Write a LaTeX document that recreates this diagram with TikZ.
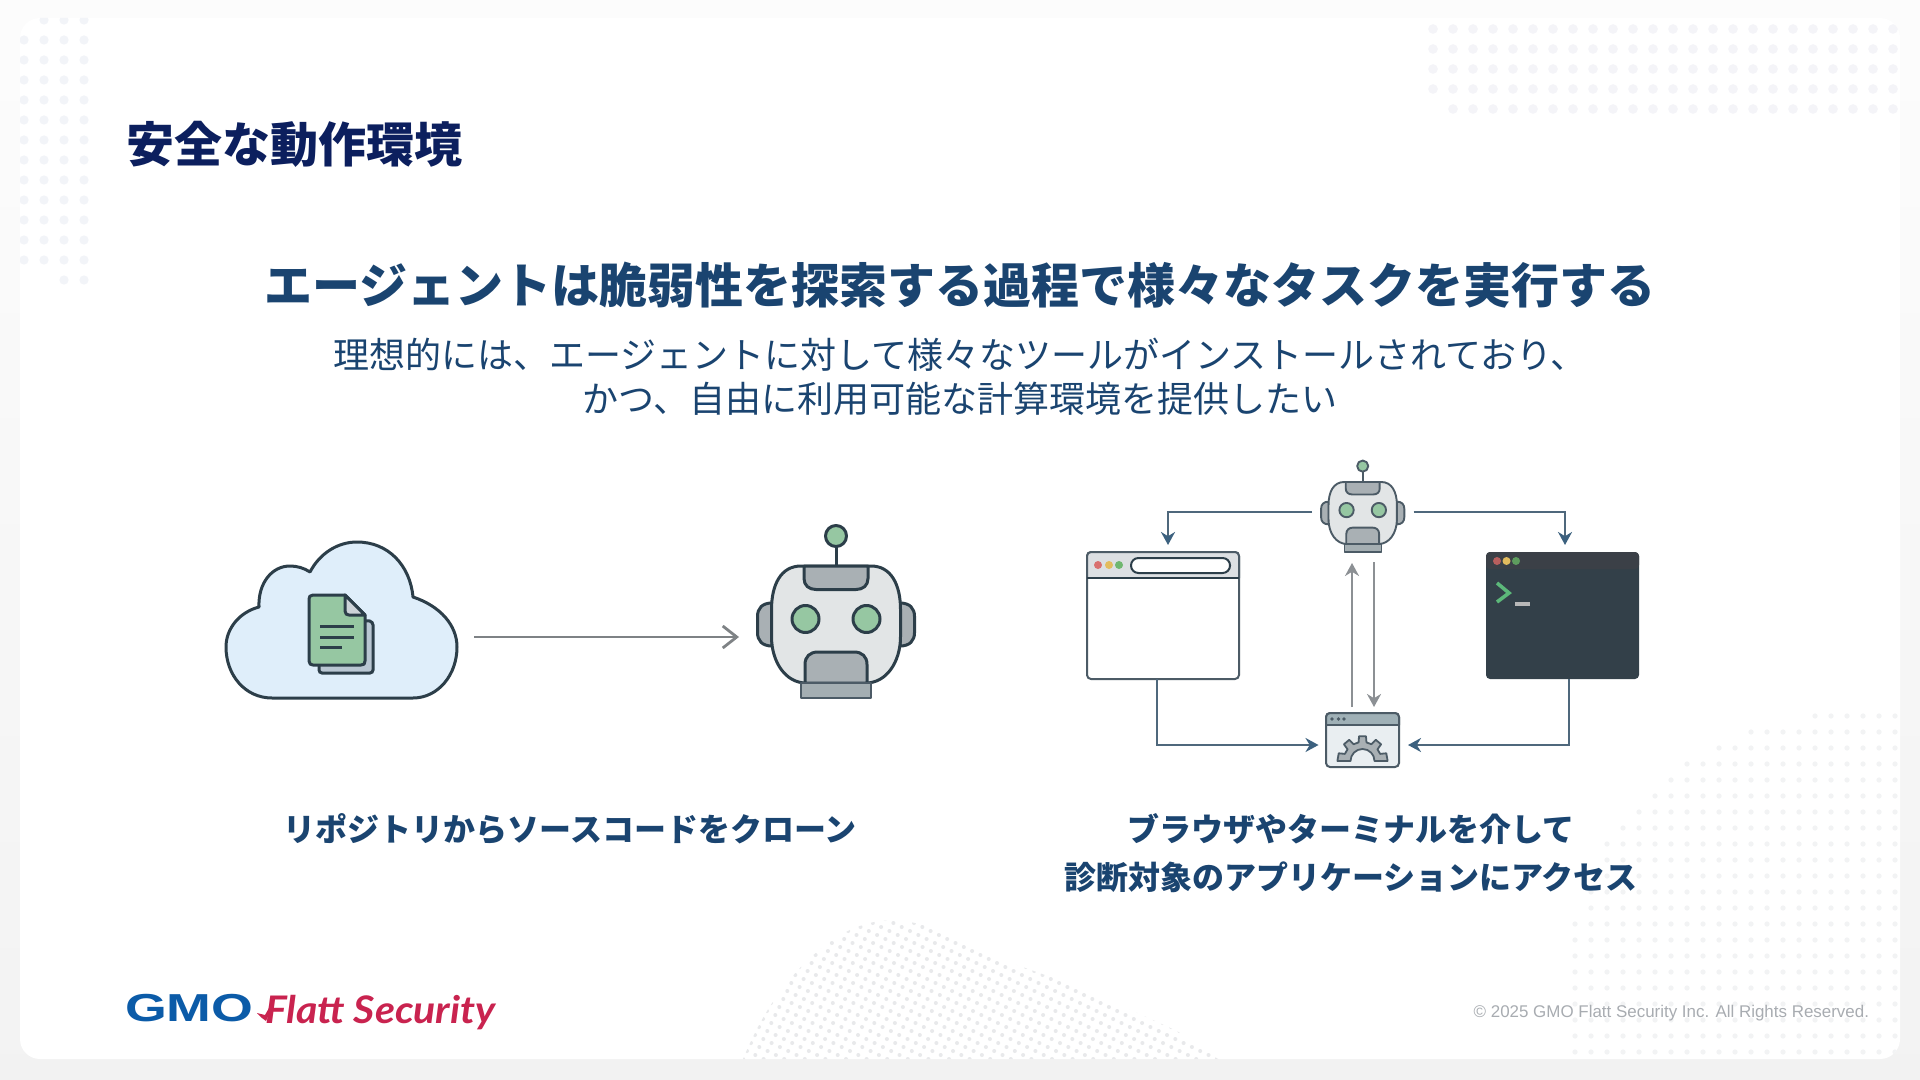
\documentclass[tikz,border=0pt]{standalone}
\usepackage{fontspec}
\usetikzlibrary{arrows.meta,calc}
\setmainfont{Noto Sans CJK JP}
\newfontfamily\latinfont{Liberation Sans}
\newfontfamily\logofont{Lato}
\definecolor{navy}{HTML}{0C1F5E}
\definecolor{heading}{HTML}{1A4470}
\definecolor{ink}{HTML}{2C3E49}
\definecolor{inksoft}{HTML}{4C5B66}
\definecolor{flow}{HTML}{4F687C}
\definecolor{flowhead}{HTML}{3C617F}
\definecolor{grayflow}{HTML}{8C9094}
\definecolor{botface}{HTML}{E2E5E6}
\definecolor{botgray}{HTML}{A9B0B4}
\definecolor{botbase}{HTML}{A4AEB2}
\definecolor{botgreen}{HTML}{96C7A2}
\definecolor{cloudfill}{HTML}{DFEEFA}
\definecolor{backpage}{HTML}{B9C6D2}
\definecolor{foldgray}{HTML}{CDD3D8}
\definecolor{termfill}{HTML}{334049}
\definecolor{termbar}{HTML}{3B4047}
\definecolor{barlight}{HTML}{DCDFE2}
\definecolor{toolbar}{HTML}{9FB0B6}
\definecolor{toolfill}{HTML}{E9EEF1}
\definecolor{dotA}{HTML}{F2F4F8}
\definecolor{dotB}{HTML}{F4F4F8}
\definecolor{dotC}{HTML}{F2F3F4}
\definecolor{dotD}{HTML}{E8E9EB}
\definecolor{wred}{HTML}{D9706F}
\definecolor{wyel}{HTML}{E3BC5E}
\definecolor{wgrn}{HTML}{6FB76F}
\definecolor{promptg}{HTML}{5CB87A}
\definecolor{copy}{HTML}{A8ACB1}
\definecolor{gmoblue}{HTML}{0B5BA8}
\definecolor{flattred}{HTML}{C9234F}
\tikzset{
  txt/.style={inner sep=0pt,outer sep=0pt,align=center},
  flowline/.style={draw=flow,line width=1.2pt,-{Stealth[length=6.5pt,width=7pt,color=flowhead]}},
  grayline/.style={draw=grayflow,line width=1.1pt,-{Stealth[length=6.5pt,width=7pt,color=grayflow]}},
  winbox/.style={rectangle,rounded corners=2pt,inner sep=0pt,outer sep=0pt},
  wdot/.style={circle,inner sep=0pt,minimum size=4pt},
}
% #1 centre, #2 scale, #3 stroke width, #4 stroke colour
\newcommand{\robotfig}[4]{%
\begin{scope}[shift={#1},scale=#2,draw=#4,line width=#3,line join=round]
  \draw[fill=botgray] (-64,-21.5) .. controls (-74,-21.5) and (-78.5,-16) .. (-78.5,-8) -- (-78.5,8) .. controls (-78.5,16) and (-74,21.5) .. (-64,21.5) -- cycle;
  \draw[fill=botgray] (64,-21.5) .. controls (74,-21.5) and (78.5,-16) .. (78.5,-8) -- (78.5,8) .. controls (78.5,16) and (74,21.5) .. (64,21.5) -- cycle;
  \draw (0,-58.5) -- (0,-78);
  \draw[fill=botgreen] (0,-88.5) circle [radius=10.5];
  \draw[fill=botface] (-35,-58.5) .. controls (-55,-58.5) and (-64.5,-40) .. (-64.5,-15) -- (-64.5,12) .. controls (-64.5,38) and (-50,58.5) .. (-30,58.5) -- (30,58.5) .. controls (50,58.5) and (64.5,38) .. (64.5,12) -- (64.5,-15) .. controls (64.5,-40) and (55,-58.5) .. (35,-58.5) -- cycle;
  \draw[fill=botgray] (-32,-58.5) -- (-32,-46) .. controls (-32,-39) and (-27,-35) .. (-20,-35) -- (20,-35) .. controls (27,-35) and (32,-39) .. (32,-46) -- (32,-58.5) -- cycle;
  \draw[fill=botgreen] (-30.5,-5.5) circle [radius=13.5];
  \draw[fill=botgreen] (30.5,-5.5) circle [radius=13.5];
  \draw[fill=botgray] (-31,58.5) -- (-31,40) .. controls (-31,32) and (-26,27.5) .. (-18,27.5) -- (18,27.5) .. controls (26,27.5) and (31,32) .. (31,40) -- (31,58.5) -- cycle;
  \draw[fill=botbase,draw=inksoft,line width=0.6pt] (-35,58.5) rectangle (35,73.5);
\end{scope}}
\begin{document}
\begin{tikzpicture}[x=0.5pt,y=-0.5pt]
\useasboundingbox (0,0) rectangle (1920,1080);
% page and card
\shade[top color=white!98!gray,bottom color=black!5] (0,0) rectangle (1920,1080);
\fill[white,rounded corners=10pt] (20,18) rectangle (1900,1059);
% decorative dots
\begin{scope}
\clip[rounded corners=10pt] (20,18) rectangle (1900,1059);
\foreach \yy in {40,60,...,260}{\foreach \xx in {24,44,64,84}{\fill[dotA] (\xx,\yy) circle [radius=4.6];}}
\foreach \xx in {44,64,84}{\fill[dotA] (\xx,20) circle [radius=4.6];}
\foreach \xx in {64,84}{\fill[dotA] (\xx,280) circle [radius=4.6];}
\foreach \yy in {29,49,69,89}{\foreach \xx in {1433,1453,...,1893}{\fill[dotB] (\xx,\yy) circle [radius=4.8];}}
\foreach \xx in {1453,1473,...,1893}{\fill[dotB] (\xx,109) circle [radius=4.8];}
\foreach \yy/\kk in {716/15,732/11,748/9,764/7,780/6,796/5,812/4,828/3,844/2,860/2,876/2,892/1,908/1,924/0,940/0,956/0,972/0,988/0,1004/0,1020/0,1036/0,1052/0}{
  \foreach \cc in {\kk,...,20}{\fill[dotC] ({1575+16*\cc},\yy) circle [radius=2.6];}}
\begin{scope}
\clip (743,1059) .. controls (755,1030) and (770,1003) .. (787,983) .. controls (805,960) and (835,933) .. (863,925) .. controls (880,919) and (905,917) .. (937,930) -- (1003,960) -- (1087,990) -- (1177,1031) -- (1218,1059) -- cycle;
\fill[dotD] foreach \ii in {0,...,60}{foreach \jj in {-8,...,36}{ ({743+8.3*\ii+4*\jj},{1059+4*\ii-8*\jj}) circle [radius=2]}};
\end{scope}
\end{scope}
% title texts
\node[txt,anchor=west,text=navy,font=\fontsize{24}{28}\selectfont\bfseries] (title) at (126,144) {安全な動作環境};
\node[txt,text=heading,font=\fontsize{24}{28}\selectfont\bfseries] (head) at (960,285) {エージェントは脆弱性を探索する過程で様々なタスクを実行する};
\node[txt,text=heading,font=\fontsize{18}{22}\selectfont] (sub) at (960,377) {理想的には、エージェントに対して様々なツールがインストールされており、\\かつ、自由に利用可能な計算環境を提供したい};
\node[txt,text=heading,font=\fontsize{16}{24}\selectfont\bfseries] (labL) at (570,829) {リポジトリからソースコードをクローン};
\node[txt,text=heading,font=\fontsize{16}{24}\selectfont\bfseries] (labR) at (1351,853) {ブラウザやターミナルを介して\\診断対象のアプリケーションにアクセス};
% cloud
\draw[ink,fill=cloudfill,line width=1.5pt,line join=round] (272,698) .. controls (245,698) and (226,675) .. (226,647) .. controls (226,628) and (240,612) .. (259,607) .. controls (258,583) and (272,566) .. (290,566) .. controls (297,566) and (304,568) .. (310,572) .. controls (320,553) and (338,542) .. (357,542) .. controls (388,542) and (410,565) .. (413,597) .. controls (440,606) and (457,625) .. (457,647) .. controls (457,675) and (438,698) .. (413,698) -- cycle;
% documents
\draw[ink,fill=backpage,line width=1.5pt,rounded corners=1.5pt] (366,620) -- (373,622) -- (373,673) -- (319,673) -- (319,660) -- cycle;
\draw[ink,fill=botgreen,line width=1.5pt,line join=round] (345,595) -- (313,595) .. controls (310,595) and (309,597) .. (309,599) -- (309,661) .. controls (309,664) and (311,665) .. (313,665) -- (361,665) .. controls (364,665) and (365,664) .. (365,661) -- (365,615) -- cycle;
\draw[ink,fill=foldgray,line width=1.5pt,line join=round] (345,595) -- (345,611) .. controls (345,614) and (347,615) .. (349,615) -- (365,615) -- cycle;
\draw[ink,line width=1.5pt] (320,626) -- (354,626) (320,637) -- (354,637) (320,647) -- (342,647);
% first arrow and robot
\coordinate (cloudR) at (474,637);
\coordinate (botL) at (739,637);
\draw[draw=grayflow!90!black,line width=1.4pt,-{Straight Barb[length=7pt,width=11pt,color=grayflow!90!black]}] (cloudR) -- (botL);
\robotfig{(836,624.5)}{1}{1.5pt}{ink}
\robotfig{(1362.7,513)}{0.53}{0.95pt}{inksoft}
% browser
\node[winbox,draw=inksoft,fill=white,line width=1pt,minimum width=76pt,minimum height=63.5pt] (browser) at (1163,615.5) {};
\draw[fill=barlight,draw=none,rounded corners=2pt] (1087,578) -- (1087,552) -- (1239,552) -- (1239,578) -- cycle;
\draw[inksoft,line width=1pt,rounded corners=2pt] (1087,578) -- (1087,552) -- (1239,552) -- (1239,578);
\draw[ink,line width=1pt] (1087,578) -- (1239,578);
\node[wdot,fill=wred] (bd1) at (1098,565) {};
\node[wdot,fill=wyel] (bd2) at (1109,565) {};
\node[wdot,fill=wgrn] (bd3) at (1119,565) {};
\node[rectangle,rounded corners=3.7pt,draw=ink,fill=white,line width=1pt,minimum width=49.5pt,minimum height=7.5pt,inner sep=0pt] (urlbar) at (1180.5,565.5) {};
% terminal
\node[winbox,fill=termfill,minimum width=76.5pt,minimum height=63.5pt] (term) at (1562.5,615.5) {};
\fill[rounded corners=2pt,fill=termbar] (1486,569) -- (1486,552) -- (1639,552) -- (1639,569) -- cycle;
\node[wdot,fill=wred!85!black] (td1) at (1497,561) {};
\node[wdot,fill=wyel] (td2) at (1506.5,561) {};
\node[wdot,fill=wgrn!85!black] (td3) at (1516,561) {};
\draw[promptg,line width=1.8pt,miter limit=4] (1497,583) -- (1509,593) -- (1497,602);
\draw[black!28,line width=1.8pt] (1515,604) -- (1530,604);
% tool window
\node[winbox,draw=inksoft,fill=toolfill,line width=1pt,minimum width=36.5pt,minimum height=27pt] (tool) at (1362.5,740) {};
\fill[rounded corners=2pt,fill=toolbar] (1326,725) -- (1326,713) -- (1399,713) -- (1399,725) -- cycle;
\draw[inksoft,line width=1pt,rounded corners=2pt] (1326,725) -- (1326,713) -- (1399,713) -- (1399,725);
\draw[inksoft,line width=1pt] (1326,725) -- (1399,725);
\node[wdot,minimum size=1.8pt,fill=inksoft] (ts1) at (1332,719) {};
\node[wdot,minimum size=1.8pt,fill=inksoft] (ts2) at (1338.5,719) {};
\node[wdot,minimum size=1.8pt,fill=inksoft] (ts3) at (1344,719) {};
\begin{scope}[shift={(1362.5,761)},y=0.5pt]
\draw[inksoft,fill=botgray,line width=0.9pt,line join=round] (0:12) -- (0:25) -- (2:25) -- (18:25) -- (22:19) -- (38:19) -- (42:25) -- (58:25) -- (62:19) -- (78:19) -- (82:25) -- (98:25) -- (102:19) -- (118:19) -- (122:25) -- (138:25) -- (142:19) -- (158:19) -- (162:25) -- (178:25) -- (180:25) -- (180:12) arc (180:0:12) -- cycle;
\end{scope}
% connectors
\coordinate (botsL) at (1312,512);
\coordinate (botsR) at (1413.5,512);
\coordinate (brIn) at (1168,545);
\coordinate (teIn) at (1565,545);
\coordinate (toolL) at (1318.5,745);
\coordinate (toolR) at (1408,745);
\coordinate (brOut) at (1157,679);
\coordinate (teOut) at (1569,679);
\coordinate (upA) at (1352,707);
\coordinate (upB) at (1352,563);
\coordinate (dnA) at (1374,562);
\coordinate (dnB) at (1374,707);
\draw[flowline] (botsL) -| (brIn);
\draw[flowline] (botsR) -| (teIn);
\draw[flowline] (brOut) |- (toolL);
\draw[flowline] (teOut) |- (toolR);
\draw[grayline] (upA) -- (upB);
\draw[grayline] (dnA) -- (dnB);
% logo
\node[txt,anchor=west,text=gmoblue,xscale=1.378,font=\latinfont\fontsize{19.5}{20}\selectfont\bfseries] (gmo) at (125,1008) {GMO};
\node[txt,anchor=west,text=flattred,xscale=1.08,font=\logofont\fontsize{19}{20}\selectfont\bfseries\itshape] (flatt) at (265,1012.5) {Flatt Security};
\fill[flattred] (257,1013) -- (265,1015) -- (269,1008) -- (270,1012) -- (266,1021) -- (262,1018) -- cycle;
% copyright
\node[txt,anchor=east,text=copy,font=\latinfont\fontsize{8.47}{10}\selectfont] (copyr) at (1869,1013) {© 2025 GMO Flatt Security Inc. All Rights Reserved.};
\end{tikzpicture}
\end{document}
